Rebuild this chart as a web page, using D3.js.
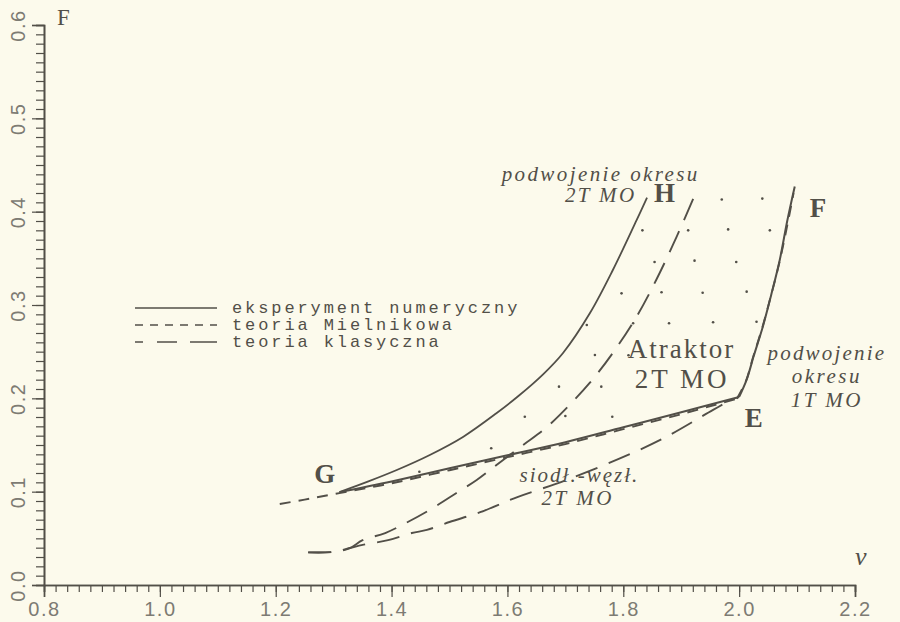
<!DOCTYPE html>
<html>
<head>
<meta charset="utf-8">
<script src="https://cdn.jsdelivr.net/npm/d3@7/dist/d3.min.js"></script>
<style>
  html, body { margin: 0; padding: 0; background: #fcfaec; }
  svg { display: block; }
</style>
</head>
<body>
<svg id="chart" width="900" height="622"></svg>
<script>
// Bifurcation diagram in the (nu, F) plane

const xMajorTicks = [0.8, 1.0, 1.2, 1.4, 1.6, 1.8, 2.0, 2.2];
const yMajorTicks = [0.0, 0.1, 0.2, 0.3, 0.4, 0.5, 0.6];

// numerical experiment: branch G -> H (period doubling 2T)
const numGH_nu = [1.31, 1.36, 1.409, 1.466, 1.524, 1.581, 1.62, 1.662, 1.696, 1.7425, 1.782, 1.823, 1.841];
const numGH_F  = [0.0995, 0.111, 0.1232, 0.1393, 0.1589, 0.184, 0.203, 0.226, 0.2486, 0.2914, 0.3375, 0.391, 0.415];

// numerical experiment: branch G -> E
const numGE_nu = [1.31, 1.40, 1.50, 1.60, 1.70, 1.80, 1.90, 2.00];
const numGE_F  = [0.0995, 0.111, 0.125, 0.139, 0.153, 0.169, 0.185, 0.2015];

// numerical experiment: branch E -> F
const numEF_nu = [2.00, 2.013, 2.025, 2.041, 2.055, 2.070, 2.083, 2.096];
const numEF_F  = [0.2015, 0.22, 0.245, 0.277, 0.31, 0.348, 0.39, 0.427];

// Mielnikov theory: lower part (up to E) and upper part (E -> F)
const mielLow_nu = [1.207, 1.25, 1.31, 1.40, 1.50, 1.60, 1.70, 1.80, 1.90, 1.996];
const mielLow_F  = [0.0868, 0.0915, 0.0985, 0.109, 0.123, 0.137, 0.151, 0.167, 0.183, 0.1995];
const mielUp_nu  = [1.996, 2.012, 2.024, 2.040, 2.055, 2.070, 2.083, 2.094];
const mielUp_F   = [0.1995, 0.219, 0.244, 0.276, 0.31, 0.347, 0.385, 0.42];

// classical theory: upper branch
const classA_nu = [1.256, 1.30, 1.328, 1.35, 1.389, 1.428, 1.47, 1.512, 1.547, 1.58, 1.627, 1.662, 1.69, 1.742, 1.782, 1.823, 1.857, 1.892, 1.926];
const classA_F  = [0.035, 0.0355, 0.0396, 0.048, 0.0557, 0.0675, 0.082, 0.0986, 0.1125, 0.128, 0.15, 0.166, 0.182, 0.2165, 0.2487, 0.2876, 0.327, 0.373, 0.4215];

// classical theory: lower branch
const classB_nu = [1.256, 1.30, 1.328, 1.35, 1.394, 1.435, 1.461, 1.50, 1.553, 1.616, 1.70, 1.816, 1.875, 1.955, 1.985];
const classB_F  = [0.035, 0.0355, 0.0396, 0.043, 0.048, 0.0557, 0.059, 0.0675, 0.078, 0.094, 0.112, 0.1415, 0.159, 0.1876, 0.198];

// attractor region sample points
const attrNu = [1.97, 2.04, 1.833, 1.912, 1.981, 2.053, 1.854, 1.923, 1.995, 1.797, 1.866, 1.937, 2.013,
                1.737, 1.817, 1.879, 1.955, 2.030, 1.751, 1.809, 1.689, 1.762, 1.630, 1.700, 1.781, 1.572, 1.448];
const attrF  = [0.413, 0.414, 0.380, 0.380, 0.381, 0.380, 0.346, 0.3475, 0.346, 0.3125, 0.3136, 0.3132, 0.3143,
                0.2786, 0.2804, 0.2804, 0.2815, 0.2821, 0.2464, 0.2461, 0.2125, 0.2125, 0.1803, 0.1811, 0.1803, 0.1465, 0.1214];

const legendLabels = ["eksperyment numeryczny", "teoria Mielnikowa", "teoria klasyczna"];

const ink = "#524f48";
const tickInk = "#7d7b73";

const svg = d3.select("#chart");

const x = d3.scaleLinear().domain([0.8, 2.2]).range([44, 855]);
const y = d3.scaleLinear().domain([0, 0.6]).range([585, 25]);

// ---- axes ----
const xMinor = d3.range(0.8, 2.2001, 0.02).map(v => +v.toFixed(2));
const yMinor = d3.range(0, 0.6001, 0.01).map(v => +v.toFixed(2));

const gxMinor = svg.append("g").attr("transform", `translate(0,${y(0)})`)
  .call(d3.axisBottom(x).tickValues(xMinor).tickSize(7).tickFormat(""));
const gx = svg.append("g").attr("transform", `translate(0,${y(0)})`)
  .call(d3.axisBottom(x).tickValues(xMajorTicks).tickSize(12).tickFormat(d3.format(".1f")));
const gyMinor = svg.append("g").attr("transform", `translate(${x(0.8)},0)`)
  .call(d3.axisLeft(y).tickValues(yMinor).tickSize(8).tickFormat(""));
const gy = svg.append("g").attr("transform", `translate(${x(0.8)},0)`)
  .call(d3.axisLeft(y).tickValues(yMajorTicks).tickSize(12).tickFormat(d3.format(".1f")));

[gxMinor, gx, gyMinor, gy].forEach(g => {
  g.selectAll("path.domain").attr("stroke", ink).attr("stroke-width", 1.6);
  g.selectAll(".tick line").attr("stroke", ink).attr("stroke-width", 1.2);
});

gx.selectAll(".tick text")
  .attr("y", 17)
  .attr("dy", "0.71em")
  .attr("fill", tickInk)
  .style("font-family", "'Liberation Sans', Arial, sans-serif")
  .style("font-size", "20px")
  .style("letter-spacing", "1.5px");

gy.selectAll(".tick text")
  .attr("x", 0)
  .attr("text-anchor", "middle")
  .attr("transform", "translate(-26,0) rotate(-90)")
  .attr("dy", "0.36em")
  .attr("fill", tickInk)
  .style("font-family", "'Liberation Sans', Arial, sans-serif")
  .style("font-size", "20px")
  .style("letter-spacing", "1.5px");

// axis names
svg.append("text").attr("x", 57).attr("y", 25).text("F")
  .attr("fill", ink).style("font-family", "'Liberation Serif', serif").style("font-size", "23px");
svg.append("text").attr("x", 855).attr("y", 565).text("ν")
  .attr("fill", ink).style("font-family", "'Liberation Serif', serif").style("font-style", "italic").style("font-size", "26px");

// ---- curves ----
const zip = (a, b) => a.map((v, i) => [v, b[i]]);
const line = d3.line().x(d => x(d[0])).y(d => y(d[1])).curve(d3.curveCatmullRom.alpha(0.5));

function curve(nu, F, dash, width) {
  svg.append("path")
    .datum(zip(nu, F))
    .attr("d", line)
    .attr("fill", "none")
    .attr("stroke", ink)
    .attr("stroke-width", width)
    .attr("stroke-linecap", "butt")
    .attr("stroke-linejoin", "round")
    .attr("stroke-dasharray", dash);
}

curve(classA_nu, classA_F, "23,12", 1.9);
curve(classB_nu, classB_F, "23,12", 1.9);
curve(mielLow_nu, mielLow_F, "11,8", 1.9);
curve(mielUp_nu, mielUp_F, "11,8", 1.9);
curve(numGH_nu, numGH_F, null, 1.8);
curve(numGE_nu, numGE_F, null, 2.0);
curve(numEF_nu, numEF_F, null, 2.0);

// attractor region dots
svg.append("g").selectAll("circle")
  .data(zip(attrNu, attrF))
  .join("circle")
  .attr("cx", d => x(d[0]))
  .attr("cy", d => y(d[1]))
  .attr("r", 1.3)
  .attr("fill", ink);

// ---- legend ----
const legendStyles = [null, "8,7", "8,14,20,13,27,0"];
const legend = svg.append("g");
legendLabels.forEach((lab, i) => {
  const ly = [308, 325, 342][i];
  legend.append("line")
    .attr("x1", 135).attr("x2", 217).attr("y1", ly).attr("y2", ly)
    .attr("stroke", ink).attr("stroke-width", 1.7)
    .attr("stroke-dasharray", legendStyles[i]);
  legend.append("text")
    .attr("x", 232).attr("y", ly + 5)
    .text(lab)
    .attr("fill", ink)
    .style("font-family", "'Liberation Mono', 'Courier New', monospace")
    .style("font-size", "17px")
    .style("letter-spacing", "2.9px");
});

// ---- annotations ----
const serif = "'Liberation Serif', 'Times New Roman', serif";
function label(nu, F, txt, opts) {
  const t = svg.append("text")
    .attr("x", x(nu)).attr("y", y(F))
    .text(txt)
    .attr("fill", ink)
    .attr("text-anchor", opts.anchor || "start")
    .style("font-family", serif)
    .style("font-size", opts.size + "px")
    .style("letter-spacing", (opts.spacing || 0) + "px");
  if (opts.italic) t.style("font-style", "italic");
  if (opts.bold) t.style("font-weight", "bold");
  return t;
}

label(1.932, 0.433, "podwojenie okresu", { italic: true, size: 21, anchor: "end", spacing: 2.4 });
label(1.823, 0.4107, "2T MO", { italic: true, size: 21, anchor: "end", spacing: 2.4 });
label(1.853, 0.4107, "H", { bold: true, size: 27 });
label(2.122, 0.3946, "F", { bold: true, size: 27 });
label(1.8076, 0.2432, "Atraktor", { size: 27, spacing: 2 });
label(1.8197, 0.2111, "2T MO", { size: 27, spacing: 3 });
label(2.1515, 0.241, "podwojenie", { italic: true, size: 21, anchor: "middle", spacing: 2.2 });
label(2.1515, 0.2164, "okresu", { italic: true, size: 21, anchor: "middle", spacing: 2.5 });
label(2.1515, 0.191, "1T MO", { italic: true, size: 21, anchor: "middle", spacing: 2.5 });
label(2.0098, 0.1696, "E", { bold: true, size: 27 });
label(1.2667, 0.1093, "G", { bold: true, size: 27 });
label(1.621, 0.1104, "siodł.-węzł.", { italic: true, size: 21, spacing: 2 });
label(1.659, 0.0857, "2T MO", { italic: true, size: 21, spacing: 2.5 });
</script>
</body>
</html>
